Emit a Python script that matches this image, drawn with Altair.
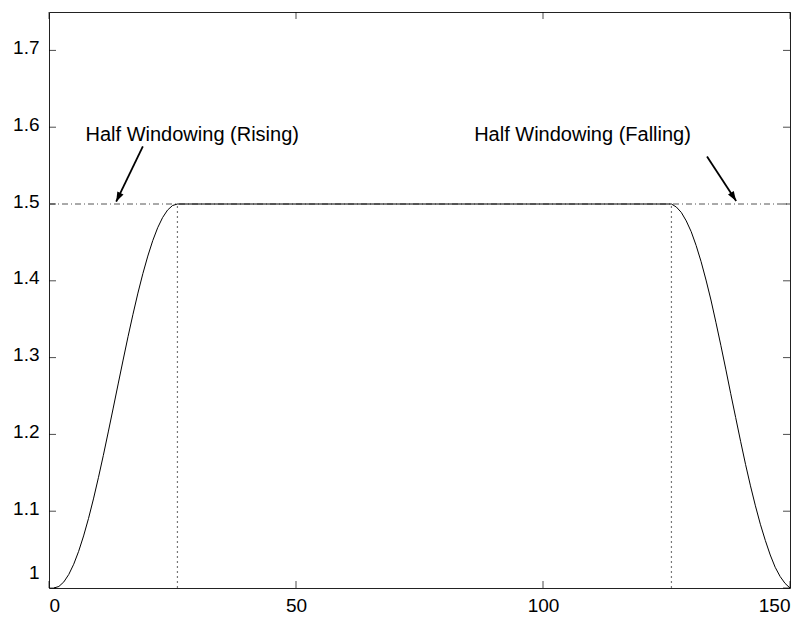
import altair as alt
import pandas as pd

# ---- data ----
rise_x = list(range(1, 27))
rise_y = [1.0000, 1.0020, 1.0079, 1.0176, 1.0309, 1.0477, 1.0678, 1.0906, 1.1160,
          1.1436, 1.1727, 1.2032, 1.2343, 1.2657, 1.2968, 1.3273, 1.3564, 1.3840,
          1.4094, 1.4322, 1.4523, 1.4691, 1.4824, 1.4921, 1.4980, 1.5000]
fall_x = list(range(126, 151))
fall_y = [1.5000, 1.4960, 1.4890, 1.4780, 1.4640, 1.4460, 1.4250, 1.4010, 1.3750,
          1.3460, 1.3160, 1.2850, 1.2530, 1.2220, 1.1910, 1.1610, 1.1330, 1.1070,
          1.0830, 1.0620, 1.0430, 1.0270, 1.0150, 1.0060, 1.0000]

level = 1.5
level_x = [0, 150]
edge_x = [26, 126]
edge_y0 = 1.0

ann_text = ["Half Windowing (Rising)", "Half Windowing (Falling)"]
ann_x = [29.0, 108.0]
ann_y = [1.59, 1.59]

arrow_x1 = [19.0, 133.2]
arrow_y1 = [1.575, 1.562]
arrow_x2 = [13.6, 139.1]
arrow_y2 = [1.503, 1.504]
arrow_angle = [205.7, 147.2]

x_ticks = [0, 50, 100, 150]
y_ticks = [1.0, 1.1, 1.2, 1.3, 1.4, 1.5, 1.6, 1.7]

# ---- tables ----
curve = pd.DataFrame({"x": rise_x + fall_x, "y": rise_y + fall_y})
hline = pd.DataFrame({"x": level_x, "y": [level] * len(level_x)})
vlines = pd.DataFrame({"x": edge_x, "y": [edge_y0] * len(edge_x), "y2": [level] * len(edge_x)})
ann = pd.DataFrame({"text": ann_text, "x": ann_x, "y": ann_y})
arrows = pd.DataFrame({"x": arrow_x1, "y": arrow_y1, "x2": arrow_x2, "y2": arrow_y2,
                       "angle": arrow_angle})
yt = pd.DataFrame({"y": y_ticks})
xt = pd.DataFrame({"x": x_ticks})

xs = alt.Scale(domain=[0, 150], nice=False, zero=False)
ys = alt.Scale(domain=[1.0, 1.75], nice=False, zero=False)

X = lambda f="x": alt.X(f, type="quantitative", scale=xs,
                        axis=alt.Axis(values=x_ticks, title=None, grid=False, ticks=False,
                                      domain=False, labelFontSize=19, labelPadding=8,
                                      labelColor="black", labelFont="Liberation Sans"))
Y = lambda f="y": alt.Y(f, type="quantitative", scale=ys,
                        axis=alt.Axis(values=y_ticks, title=None, grid=False, ticks=False,
                                      domain=False, labelFontSize=19, labelPadding=10,
                                      labelColor="black", labelFont="Liberation Sans",
                                      labelOffset=-3,
                                      labelFlush=True, labelFlushOffset=-3,
                                      format="~g"))

dashdot = alt.Chart(hline).mark_line(color="#555555", strokeWidth=1,
                                     strokeDash=[6, 3, 1, 3]).encode(x=X(), y=Y())
dotted = alt.Chart(vlines).mark_rule(color="#777777", strokeWidth=1.2,
                                     strokeDash=[2, 3]).encode(x=X(), y=Y(), y2="y2")
line = alt.Chart(curve).mark_line(color="black", strokeWidth=1).encode(x=X(), y=Y())

text = alt.Chart(ann).mark_text(fontSize=20, font="Liberation Sans", color="black",
                                align="center", baseline="middle").encode(
    x=X(), y=Y(), text="text")

arrow_line = alt.Chart(arrows).mark_rule(color="black", strokeWidth=1.8).encode(
    x=X(), y=Y(), x2="x2", y2="y2")
arrow_head = alt.Chart(arrows).mark_point(
    shape="M0,0L-0.35,1L0.35,1Z", filled=True, color="black", size=380, opacity=1
).encode(x=X("x2"), y=Y("y2"), angle=alt.Angle("angle:Q", scale=None))

ytl = alt.Chart(yt).mark_tick(orient="horizontal", size=7, thickness=1, color="black",
                              xOffset=3.5).encode(x=alt.datum(0, type="quantitative", scale=xs), y=Y())
ytr = alt.Chart(yt).mark_tick(orient="horizontal", size=7, thickness=1, color="black",
                              xOffset=-3.5).encode(x=alt.datum(150, type="quantitative", scale=xs), y=Y())
xtb = alt.Chart(xt).mark_tick(orient="vertical", size=7, thickness=1, color="black",
                              yOffset=-3.5).encode(x=X(), y=alt.datum(1.0, type="quantitative", scale=ys))
xtt = alt.Chart(xt).mark_tick(orient="vertical", size=7, thickness=1, color="black",
                              yOffset=3.5).encode(x=X(), y=alt.datum(1.75, type="quantitative", scale=ys))

chart = alt.layer(dashdot, dotted, line, text, arrow_line, arrow_head,
                  ytl, ytr, xtb, xtt).properties(
    width=741, height=576,
    autosize=alt.AutoSizeParams(type="none"),
    padding={"left": 41, "top": 4, "right": 13, "bottom": 29},
    background="white",
).configure_view(stroke="#222222", strokeWidth=1)

chart.save("out.html", embed_options={"renderer": "svg", "actions": False})
